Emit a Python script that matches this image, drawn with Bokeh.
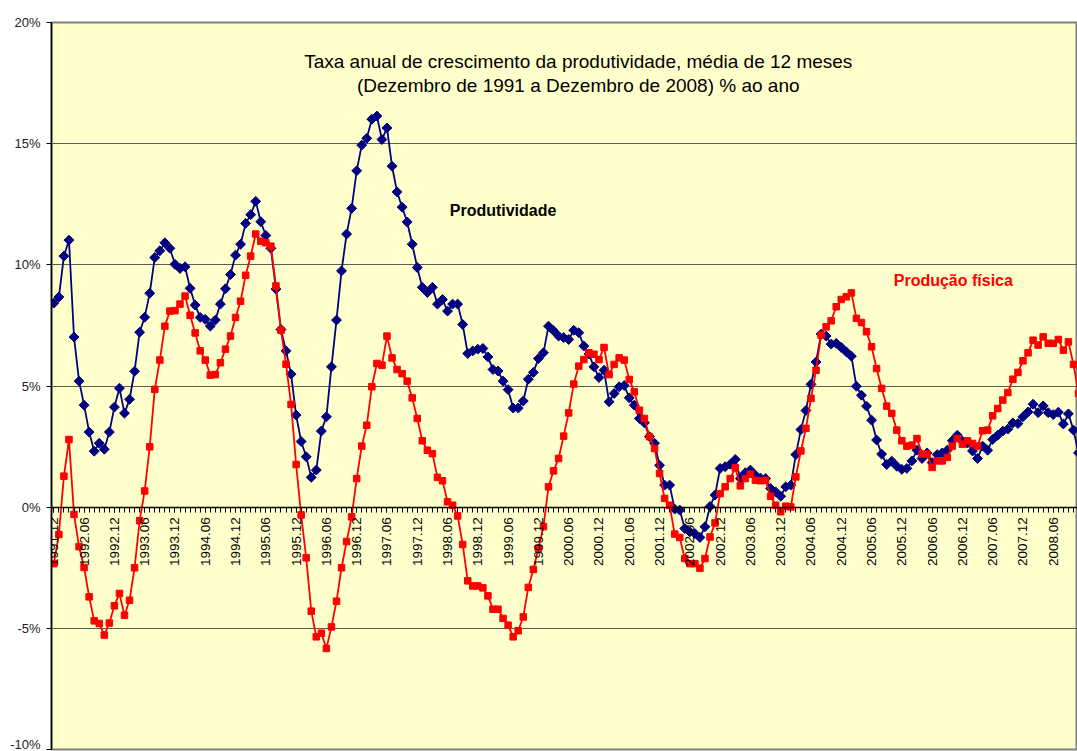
import numpy as np
from bokeh.plotting import figure
from bokeh.models import FixedTicker, Label, Range1d
from bokeh.embed import file_html
from bokeh.resources import INLINE

# Produtividade: 12-month average growth (%), monthly from 1991.12
produtividade = [
    8.42, 8.67, 10.36, 11.02, 7.02, 5.2, 4.21, 3.1, 2.31, 2.64, 2.39, 3.1,
    4.13, 4.91, 3.88, 4.45, 5.61, 7.22, 7.84, 8.83, 10.3, 10.58, 10.91, 10.68,
    10.02, 9.85, 9.92, 9.03, 8.34, 7.83, 7.75, 7.47, 7.72, 8.38, 9.01, 9.6,
    10.4, 10.85, 11.71, 12.07, 12.62, 11.78, 11.21, 10.68, 9.0, 7.33, 6.45, 5.49,
    3.8, 2.71, 2.08, 1.23, 1.53, 3.14, 3.73, 5.79, 7.72, 9.75, 11.27, 12.33,
    13.88, 14.94, 15.22, 16.01, 16.14, 15.17, 15.65, 14.07, 13.01, 12.38, 11.77, 10.85,
    9.89, 9.07, 8.86, 9.07, 8.38, 8.57, 8.09, 8.38, 8.38, 7.54, 6.34, 6.45,
    6.52, 6.55, 6.2, 5.68, 5.62, 5.2, 4.85, 4.09, 4.09, 4.38, 5.28, 5.56,
    6.13, 6.37, 7.47, 7.28, 7.06, 7.0, 6.92, 7.3, 7.2, 6.65, 6.32, 5.79,
    5.35, 5.65, 4.35, 4.69, 4.97, 5.02, 4.51, 4.21, 3.66, 3.48, 2.91, 2.64,
    1.73, 0.91, 0.91, -0.08, -0.12, -0.88, -1.02, -1.09, -1.25, -0.81, 0.03, 0.5,
    1.6, 1.67, 1.77, 1.97, 1.18, 1.42, 1.53, 1.32, 1.2, 1.18, 0.77, 0.63,
    0.45, 0.84, 0.91, 2.17, 3.2, 3.99, 5.07, 5.99, 7.14, 7.06, 6.73, 6.76,
    6.59, 6.41, 6.23, 4.99, 4.62, 4.17, 3.59, 2.77, 2.19, 1.76, 1.9, 1.69,
    1.56, 1.6, 1.91, 2.35, 2.01, 2.24, 1.84, 2.17, 2.24, 2.35, 2.74, 2.97,
    2.72, 2.65, 2.32, 2.01, 2.52, 2.35, 2.79, 2.97, 3.14, 3.22, 3.48, 3.45,
    3.73, 3.93, 4.25, 3.9, 4.18, 3.9, 3.82, 3.92, 3.43, 3.85, 3.18, 2.24,
]

# Produção física: 12-month average growth (%), monthly from 1991.12
producao_fisica = [
    -2.33, -1.13, 1.28, 2.79, -0.3, -1.63, -2.49, -3.7, -4.69, -4.8, -5.28, -4.78,
    -4.07, -3.56, -4.46, -3.84, -2.5, -0.56, 0.67, 2.49, 4.86, 6.07, 7.47, 8.09,
    8.11, 8.38, 8.71, 7.92, 7.19, 6.45, 6.07, 5.45, 5.47, 5.96, 6.52, 7.06,
    7.83, 8.5, 9.57, 10.36, 11.27, 10.97, 10.91, 10.77, 9.13, 7.3, 5.9, 4.24,
    1.76, -0.32, -2.09, -4.29, -5.35, -5.2, -5.83, -4.94, -3.88, -2.5, -1.42, -0.4,
    1.18, 2.52, 3.38, 4.97, 5.93, 5.86, 7.06, 6.16, 5.68, 5.51, 5.2, 4.51,
    3.66, 2.74, 2.35, 2.21, 1.23, 1.09, 0.22, 0.08, -0.36, -1.54, -3.04, -3.25,
    -3.25, -3.33, -3.66, -4.21, -4.21, -4.59, -4.87, -5.35, -5.1, -4.53, -3.31, -2.57,
    -1.7, -0.8, 0.84, 1.5, 2.01, 2.93, 3.89, 5.08, 5.82, 6.09, 6.37, 6.31,
    6.09, 6.59, 5.47, 5.89, 6.16, 6.07, 5.27, 4.76, 4.0, 3.66, 2.91, 2.42,
    1.39, 0.36, 0.08, -1.11, -1.25, -2.12, -2.33, -2.33, -2.52, -2.12, -1.23, -0.65,
    0.56, 0.84, 1.18, 1.62, 0.88, 1.18, 1.36, 1.11, 1.09, 1.11, 0.45, 0.08,
    -0.19, 0.04, 0.01, 1.25, 2.32, 3.25, 4.49, 5.65, 7.1, 7.44, 7.69, 8.27,
    8.57, 8.68, 8.84, 7.79, 7.62, 7.24, 6.62, 5.72, 4.9, 4.17, 3.87, 3.18,
    2.74, 2.52, 2.56, 2.83, 2.19, 2.19, 1.64, 1.91, 1.91, 2.05, 2.52, 2.83,
    2.6, 2.74, 2.63, 2.52, 3.15, 3.18, 3.77, 4.07, 4.42, 4.73, 5.28, 5.56,
    6.04, 6.37, 6.89, 6.69, 7.03, 6.76, 6.76, 6.92, 6.48, 6.82, 5.89, 4.69,
]

# month categories (1991.12 ...)
months = []
yy, mm = 1991, 12
for _ in range(len(produtividade)):
    months.append(f"{yy}.{mm:02d}")
    mm += 1
    if mm > 12:
        mm, yy = 1, yy + 1

y_ticks = [-10, -5, 0, 5, 10, 15, 20]
y_tick_labels = ["-10%", "-5%", "0%", "5%", "10%", "15%", "20%"]

title_line1 = "Taxa anual de crescimento da produtividade, média de 12 meses"
title_line2 = "(Dezembro de 1991 a Dezembro de 2008) % ao ano"

FONT = "Liberation Sans"

x = list(range(len(months)))
x_tick_idx = [i for i, s in enumerate(months) if s.endswith(".06") or s.endswith(".12")]

p = figure(width=1077, height=751, output_backend="svg", toolbar_location=None,
           x_range=Range1d(-0.46, 202.8), y_range=Range1d(-10, 20),
           min_border_left=51, min_border_top=22, min_border_right=0, min_border_bottom=2,
           background_fill_color="#FFFFCC", border_fill_color="white")

p.outline_line_color = "#808080"
p.outline_line_width = 2

# x axis crossing at zero
xa = p.xaxis[0]
xa.fixed_location = 0
xa.ticker = FixedTicker(ticks=x_tick_idx, minor_ticks=x)
xa.major_label_overrides = {i: months[i] for i in x_tick_idx}
xa.major_label_orientation = np.pi / 2
xa.major_label_text_font = FONT
xa.major_label_text_font_size = "13.5px"
xa.major_label_text_color = "black"
xa.major_label_standoff = 5
xa.axis_line_color = "black"
xa.axis_line_width = 1.5
xa.major_tick_in = 0
xa.major_tick_out = 5
xa.minor_tick_in = 0
xa.minor_tick_out = 5
xa.major_tick_line_color = "black"
xa.minor_tick_line_color = "black"

ya = p.yaxis[0]
ya.ticker = FixedTicker(ticks=y_ticks, minor_ticks=[])
ya.major_label_overrides = dict(zip(y_ticks, y_tick_labels))
ya.major_label_text_font = FONT
ya.major_label_text_font_size = "13px"
ya.major_label_text_color = "#222222"
ya.major_label_standoff = 6
ya.axis_line_color = "black"
ya.axis_line_width = 1.5
ya.major_tick_in = 0
ya.major_tick_out = 5
ya.major_tick_line_color = "black"

p.xgrid.visible = False
p.ygrid.ticker = FixedTicker(ticks=y_ticks)
p.ygrid.grid_line_color = "#5a5a5a"
p.ygrid.grid_line_width = 1

p.line(x, produtividade, line_color="#000080", line_width=1.8)
p.scatter(x, produtividade, marker="square", angle=np.pi / 4, size=7,
          fill_color="#000080", line_color="#000080")

p.line(x, producao_fisica, line_color="#FF0000", line_width=1.8)
p.scatter(x, producao_fisica, marker="square", size=6.5,
          fill_color="#FF0000", line_color="#FF0000")

p.add_layout(Label(x=103.9, y=18.4, text=title_line1, text_align="center",
                   text_baseline="middle", text_font=FONT, text_font_size="19px",
                   text_color="black"))
p.add_layout(Label(x=103.9, y=17.4, text=title_line2, text_align="center",
                   text_baseline="middle", text_font=FONT, text_font_size="19px",
                   text_color="black"))
p.add_layout(Label(x=89, y=12.26, text="Produtividade", text_align="center",
                   text_baseline="middle", text_font=FONT, text_font_size="16px",
                   text_font_style="bold", text_color="black"))
p.add_layout(Label(x=178.2, y=9.37, text="Produção física", text_align="center",
                   text_baseline="middle", text_font=FONT, text_font_size="16px",
                   text_font_style="bold", text_color="#FF0000"))

open("out.html", "w").write(file_html(p, INLINE))
